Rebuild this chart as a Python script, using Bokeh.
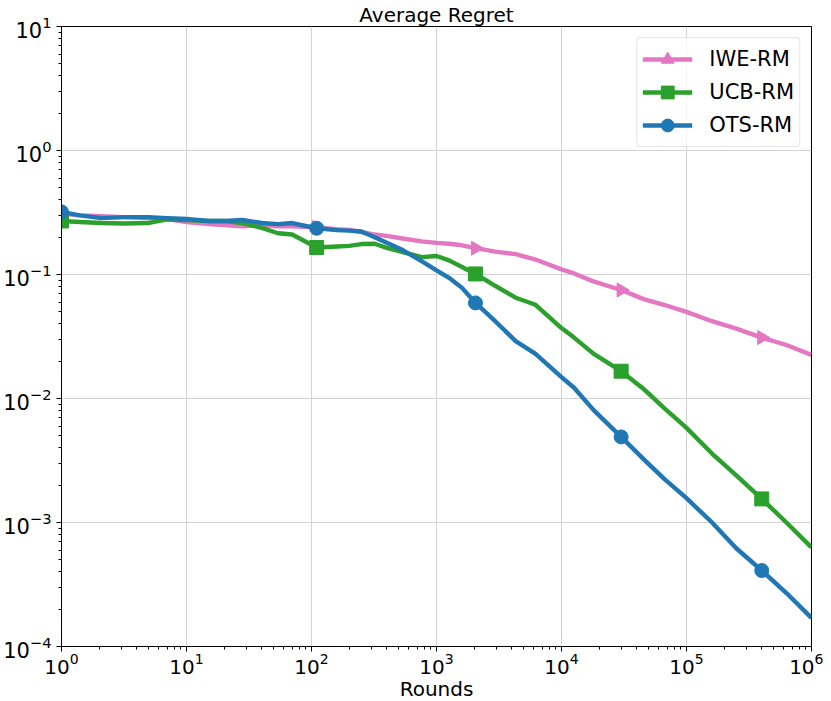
import numpy as np
from bokeh.plotting import figure
from bokeh.models import Range1d
from bokeh.embed import file_html
from bokeh.resources import INLINE

rounds = [1, 1.4, 2.1, 3.2, 4.9, 7, 10, 15, 20, 28, 40, 54, 70, 110, 160, 200, 250,
          320, 400, 520, 760, 1000, 1260, 1600, 2050, 2950, 4300, 6200, 10000, 12600,
          18000, 30000, 46000, 66000, 100000, 160000, 250000, 400000, 630000, 1000000]

iwe_rm = [0.31, 0.30, 0.295, 0.29, 0.285, 0.28, 0.265, 0.255, 0.25, 0.245, 0.25, 0.245,
          0.245, 0.24, 0.232, 0.229, 0.22, 0.21, 0.205, 0.196, 0.185, 0.18, 0.177, 0.172,
          0.163, 0.153, 0.146, 0.132, 0.11, 0.102, 0.088, 0.075, 0.063, 0.057, 0.050,
          0.042, 0.0366, 0.031, 0.027, 0.0225]

ucb_rm = [0.27, 0.265, 0.26, 0.258, 0.26, 0.278, 0.275, 0.27, 0.27, 0.26, 0.238, 0.215,
          0.21, 0.165, 0.168, 0.17, 0.176, 0.177, 0.164, 0.153, 0.138, 0.141, 0.13, 0.115,
          0.101, 0.081, 0.065, 0.057, 0.037, 0.031, 0.023, 0.0166, 0.0118, 0.0084, 0.0058,
          0.0036, 0.0024, 0.00155, 0.001, 0.00063]

ots_rm = [0.32, 0.30, 0.285, 0.29, 0.29, 0.285, 0.28, 0.27, 0.27, 0.275, 0.26, 0.255,
          0.26, 0.236, 0.228, 0.226, 0.222, 0.2, 0.18, 0.16, 0.128, 0.108, 0.094, 0.078,
          0.059, 0.042, 0.029, 0.0229, 0.0149, 0.0122, 0.0081, 0.0049, 0.0032, 0.00226,
          0.00157, 0.001, 0.00062, 0.00041, 0.00027, 0.00017]

marker_idx = [0, 13, 24, 31, 37]

series = [
    ("IWE-RM", iwe_rm, "#e377c2", "triangle", -np.pi / 2),
    ("UCB-RM", ucb_rm, "#2ca02c", "square", 0.0),
    ("OTS-RM", ots_rm, "#1f77b4", "circle", 0.0),
]

FONT = "DejaVu Sans"

p = figure(x_axis_type="log", y_axis_type="log",
           x_range=Range1d(1, 1e6), y_range=Range1d(1e-4, 10),
           frame_width=750, frame_height=620,
           output_backend="svg", toolbar_location=None,
           title="Average Regret", min_border_top=0, min_border_right=12,
           min_border_left=0, min_border_bottom=0)

p.title.align = "center"
p.title.text_font = FONT
p.title.text_font_size = "20px"
p.title.text_font_style = "normal"
p.title.text_color = "black"
p.title.standoff = 0

p.background_fill_color = "white"
p.outline_line_color = "black"
p.outline_line_width = 1

for ax in (p.xaxis[0], p.yaxis[0]):
    ax.major_label_text_font = FONT
    ax.major_label_text_font_size = "20px"
    ax.major_label_text_color = "black"
    ax.axis_line_color = "black"
    ax.major_tick_line_color = "black"
    ax.minor_tick_line_color = "black"
    ax.major_tick_out = 5
    ax.major_tick_in = 0
    ax.minor_tick_out = 3
    ax.minor_tick_in = 0
    ax.major_label_standoff = 1

p.yaxis.major_label_text_font_size = "21px"
p.yaxis.major_label_standoff = 5

p.xaxis.axis_label = "Rounds"
p.xaxis.axis_label_text_font = FONT
p.xaxis.axis_label_text_font_size = "20px"
p.xaxis.axis_label_text_font_style = "normal"
p.xaxis.axis_label_text_color = "black"
p.xaxis.axis_label_standoff = 0

p.xgrid.grid_line_color = "#d3d3d3"
p.ygrid.grid_line_color = "#d3d3d3"

for name, vals, color, marker, ang in series:
    p.line(rounds, vals, line_color=color, line_width=4.4, line_join="round",
           legend_label=name)
    mx = [rounds[i] for i in marker_idx]
    my = [vals[i] for i in marker_idx]
    p.scatter(mx, my, marker=marker, size=14, angle=ang, fill_color=color,
              line_color=color, legend_label=name)

lg = p.legend[0]
lg.location = "top_right"
lg.margin = 11
lg.padding = 5
lg.spacing = 1
lg.glyph_width = 50
lg.glyph_height = 32
lg.label_height = 32
lg.label_standoff = 17
lg.label_text_font = FONT
lg.label_text_font_size = "21px"
lg.label_text_color = "black"
lg.border_line_color = "#cccccc"
lg.border_radius = 4
lg.background_fill_alpha = 0.8

open("out.html", "w").write(file_html(p, INLINE))
